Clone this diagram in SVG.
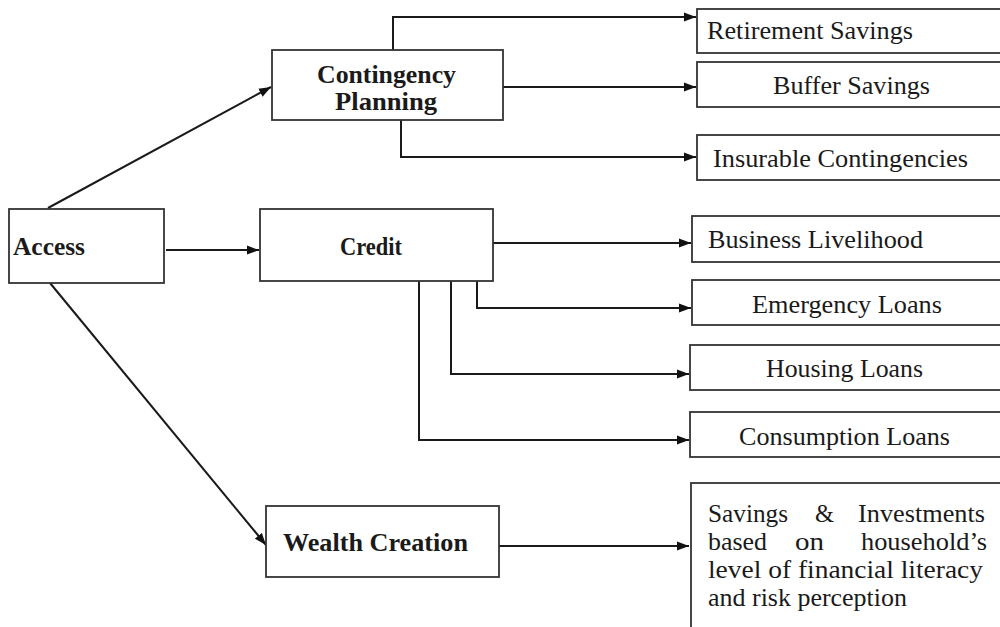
<svg xmlns="http://www.w3.org/2000/svg" width="1000" height="627" viewBox="0 0 1000 627">
<defs>
<style>
.box{fill:#fff;stroke:#333;stroke-width:1.8}
.t{font-family:'Liberation Serif','Times New Roman',serif;font-size:25px;fill:#1a1a1a}
.b{font-weight:bold;font-size:26px}
.c{fill:none;stroke:#1a1a1a;stroke-width:2}
</style>
<marker id="ah" viewBox="0 0 12 10" refX="12" refY="5" markerWidth="12" markerHeight="10" markerUnits="userSpaceOnUse" orient="auto">
<path d="M0,0.5 L12,5 L0,9.5 Z" fill="#111"/>
</marker>
</defs>
<rect width="1000" height="627" fill="#fff"/>

<g id="connectors">
<line class="c" x1="48" y1="208" x2="271" y2="87" marker-end="url(#ah)"/>
<line class="c" x1="166" y1="250" x2="259" y2="250" marker-end="url(#ah)"/>
<line class="c" x1="50" y1="283" x2="266" y2="545" marker-end="url(#ah)"/>
<polyline class="c" points="393,50 393,17 696,17" marker-end="url(#ah)"/>
<line class="c" x1="503" y1="87" x2="696" y2="87" marker-end="url(#ah)"/>
<polyline class="c" points="401,120 401,157 696,157" marker-end="url(#ah)"/>
<line class="c" x1="493" y1="243" x2="691" y2="243" marker-end="url(#ah)"/>
<polyline class="c" points="477,281 477,308 691,308" marker-end="url(#ah)"/>
<polyline class="c" points="451,281 451,374 689,374" marker-end="url(#ah)"/>
<polyline class="c" points="419,281 419,440 689,440" marker-end="url(#ah)"/>
<line class="c" x1="499" y1="546" x2="689" y2="546" marker-end="url(#ah)"/>
</g>

<g id="access">
<rect class="box" x="9" y="209" width="155" height="74"/>
<text class="t b" x="13" y="255" textLength="72" lengthAdjust="spacingAndGlyphs">Access</text>
</g>

<g id="contingency">
<rect class="box" x="272" y="50" width="231" height="70"/>
<text class="t b" x="317" y="83" textLength="139" lengthAdjust="spacingAndGlyphs">Contingency</text>
<text class="t b" x="335" y="110" textLength="102" lengthAdjust="spacingAndGlyphs">Planning</text>
</g>

<g id="credit">
<rect class="box" x="260" y="209" width="233" height="72"/>
<text class="t b" x="340" y="255" textLength="62" lengthAdjust="spacingAndGlyphs">Credit</text>
</g>

<g id="wealth">
<rect class="box" x="266" y="506" width="233" height="71"/>
<text class="t b" x="283" y="551" textLength="185" lengthAdjust="spacingAndGlyphs">Wealth Creation</text>
</g>

<g id="retirement">
<rect class="box" x="697" y="9" width="310" height="44"/>
<text class="t" x="707" y="39" textLength="206" lengthAdjust="spacingAndGlyphs">Retirement Savings</text>
</g>

<g id="buffer">
<rect class="box" x="697" y="62" width="310" height="45"/>
<text class="t" x="773" y="94" textLength="157" lengthAdjust="spacingAndGlyphs">Buffer Savings</text>
</g>

<g id="insurable">
<rect class="box" x="697" y="135" width="310" height="45"/>
<text class="t" x="713" y="167" textLength="255" lengthAdjust="spacingAndGlyphs">Insurable Contingencies</text>
</g>

<g id="business">
<rect class="box" x="692" y="216" width="315" height="46"/>
<text class="t" x="708" y="248" textLength="215" lengthAdjust="spacingAndGlyphs">Business Livelihood</text>
</g>

<g id="emergency">
<rect class="box" x="692" y="280" width="315" height="45"/>
<text class="t" x="752" y="313" textLength="190" lengthAdjust="spacingAndGlyphs">Emergency Loans</text>
</g>

<g id="housing">
<rect class="box" x="690" y="345" width="317" height="45"/>
<text class="t" x="766" y="377" textLength="157" lengthAdjust="spacingAndGlyphs">Housing Loans</text>
</g>

<g id="consumption">
<rect class="box" x="690" y="412" width="317" height="45"/>
<text class="t" x="739" y="445" textLength="211" lengthAdjust="spacingAndGlyphs">Consumption Loans</text>
</g>

<g id="savings">
<rect class="box" x="691" y="483" width="316" height="160"/>
<text class="t" x="708" y="522" textLength="80" lengthAdjust="spacingAndGlyphs">Savings</text>
<text class="t" x="815" y="522" textLength="19" lengthAdjust="spacingAndGlyphs">&amp;</text>
<text class="t" x="858" y="522" textLength="127" lengthAdjust="spacingAndGlyphs">Investments</text>
<text class="t" x="708" y="550" textLength="59" lengthAdjust="spacingAndGlyphs">based</text>
<text class="t" x="795" y="550" textLength="29" lengthAdjust="spacingAndGlyphs">on</text>
<text class="t" x="861" y="550" textLength="126" lengthAdjust="spacingAndGlyphs">household’s</text>
<text class="t" x="708" y="578" textLength="275" lengthAdjust="spacingAndGlyphs">level of financial literacy</text>
<text class="t" x="708" y="606" textLength="199" lengthAdjust="spacingAndGlyphs">and risk perception</text>
</g>
</svg>
